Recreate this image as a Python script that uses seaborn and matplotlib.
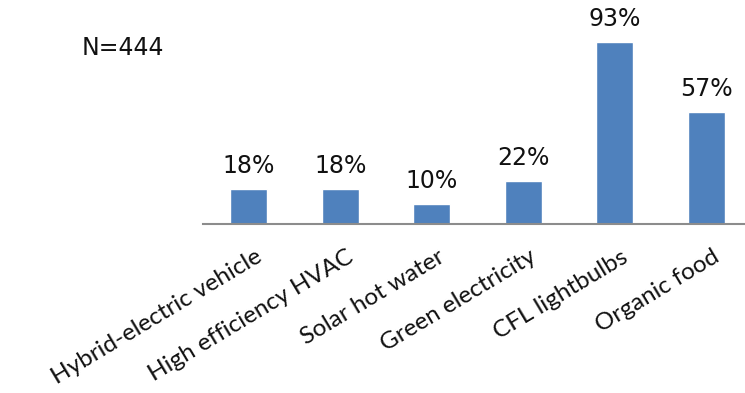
import matplotlib
matplotlib.use("Agg")
import matplotlib.pyplot as plt
import matplotlib.transforms as mtransforms
import seaborn as sns
import pandas as pd

categories = ["Hybrid-electric vehicle", "High efficiency HVAC", "Solar hot water",
              "Green electricity", "CFL lightbulbs", "Organic food"]
percent = [18, 18, 10, 22, 93, 57]
sample_note = "N=444"

sns.set_theme(style="white")
plt.rcParams["font.family"] = ["Lato", "DejaVu Sans"]

df = pd.DataFrame({"item": categories, "pct": percent})

fig = plt.figure(figsize=(7.45, 3.93), dpi=100)
ax = fig.add_axes([203 / 745, 169 / 393, 549 / 745, 195.7 / 393])

sns.barplot(data=df, x="item", y="pct", color="#4F81BD", width=0.4,
            saturation=1, ax=ax)

ax.set_ylim(0, 100)
ax.set_xlim(-0.5, 5.5)
ax.set_xlabel("")
ax.set_ylabel("")
ax.set_yticks([])
for side in ["top", "right", "left"]:
    ax.spines[side].set_visible(False)
ax.spines["bottom"].set_color("#8c8c8c")
ax.spines["bottom"].set_linewidth(1.5)
ax.tick_params(axis="x", length=0, pad=16)

ax.set_xticks(range(len(categories)))
ax.set_xticklabels(categories, rotation=31, ha="right", va="top",
                   rotation_mode="anchor", fontsize=17.5, color="#111111")
# nudge the slanted labels a little to the right of their ticks
shift = mtransforms.ScaledTranslation(6 / 100, 0, fig.dpi_scale_trans)
for lbl in ax.get_xticklabels():
    lbl.set_transform(lbl.get_transform() + shift)

ax.bar_label(ax.containers[0], labels=[f"{v}%" for v in percent],
             padding=8, fontsize=17, color="#111111",
             family=["DejaVu Sans"])

fig.text(82 / 745, 1 - 48 / 393, sample_note, fontsize=17, color="#111111",
         family=["DejaVu Sans"], ha="left", va="center")

fig.savefig("out.png", dpi=100)
